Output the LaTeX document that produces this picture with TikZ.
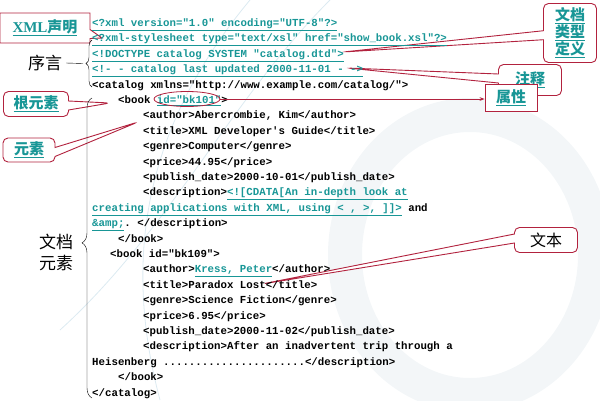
\documentclass[tikz,border=0pt]{standalone}
\usepackage{fontspec}
\setmainfont{Liberation Serif}
\setmonofont{Liberation Mono}
\newfontfamily\cjk{Noto Sans CJK SC}
\usetikzlibrary{shapes.geometric,shapes.callouts,decorations.pathreplacing,arrows.meta}

\definecolor{linkteal}{RGB}{24,150,150}
\definecolor{tagred}{RGB}{178,34,62}
\definecolor{swirlgray}{RGB}{243,246,248}
\definecolor{swirlblue}{RGB}{220,234,241}

\newcommand{\lnk}[1]{{\color{linkteal}\underline{#1}}}

\tikzset{
  code/.style={anchor=base west, inner sep=0pt, font=\ttfamily\bfseries\fontsize{10.75}{13}\selectfont},
  tag/.style={rectangle callout, draw=tagred, line width=0.9pt, fill=white, rounded corners=5pt,
    callout pointer width=9pt, text=linkteal, inner sep=0pt, font=\cjk\bfseries\fontsize{15}{17}\selectfont},
  side/.style={inner sep=0pt, align=center, font=\cjk\fontsize{17}{21}\selectfont},
}

\begin{document}
\begin{tikzpicture}[x=1pt,y=-1pt]
  \useasboundingbox (0,0) rectangle (600,400);
  % faint background swirl
  \draw[swirlgray, line width=34pt] (470,255) ellipse (125 and 140);
  \draw[swirlblue, line width=0.8pt] (250,0) .. controls (150,120) and (120,250) .. (160,400);
  \draw[swirlblue, line width=0.8pt] (330,0) .. controls (230,100) and (170,230) .. (60,330);

  % callouts
  \coordinate (tipDecl) at (102,38);
  \coordinate (tipRoot) at (110,103);
  \coordinate (tipElem) at (138,122);
  \coordinate (tipDtd) at (343,52);
  \coordinate (tipCmt) at (347,68);
  \coordinate (tipTxt) at (262,284);
  \node[tag, rounded corners=0pt, callout absolute pointer={(tipDecl)}, minimum width=90pt, minimum height=30pt] (decl) at (45,28) {\underline{{\rmfamily XML}声明}};
  \node[tag, callout absolute pointer={(tipRoot)}, minimum width=65pt, minimum height=25pt] (root) at (36,104) {\underline{根元素}};
  \node[tag, callout absolute pointer={(tipElem)}, minimum width=52pt, minimum height=24pt] (elem) at (29,150) {\underline{元素}};
  \node[tag, callout absolute pointer={(tipDtd)}, minimum width=53pt, minimum height=59pt, align=center] (dtd) at (570,33) {\underline{文档}\\\underline{类型}\\\underline{定义}};
  \node[tag, callout absolute pointer={(tipCmt)}, minimum width=63pt, minimum height=31pt] (cmt) at (530,80) {\underline{注释}};
  \node[draw=tagred, line width=0.9pt, fill=white, minimum width=52pt, minimum height=27pt, inner sep=0pt, text=linkteal, font=\cjk\bfseries\fontsize{15}{17}\selectfont] (attr) at (511,98) {\underline{属性}};
  \node[tag, text=black, font=\cjk\fontsize{16}{18}\selectfont, callout absolute pointer={(tipTxt)}, minimum width=63pt, minimum height=25pt] (txt) at (546,240) {文本};

  % code lines
  \node[code] (l1) at (92,26.5) {\lnk{<?xml version="1.0" encoding="UTF-8"?>}};
  \node[code] (l2) at (92,41.9) {\lnk{<?xml-stylesheet type="text/xsl" href="show\_book.xsl"?>}};
  \node[code] (l3) at (92,57.3) {\lnk{<!DOCTYPE catalog SYSTEM "catalog.dtd">}};
  \node[code] (l4) at (92,72.7) {\lnk{<!- - catalog last updated 2000-11-01 - ->}};
  \node[code] (l5) at (92,88.1) {<catalog xmlns="http://www.example.com/catalog/">};
  \node[code] (l6) at (118,103.5) {<book \lnk{id="bk101"}>};
  \node[code] (l7) at (143,118.9) {<author>Abercrombie, Kim</author>};
  \node[code] (l8) at (143,134.3) {<title>XML Developer's Guide</title>};
  \node[code] (l9) at (143,149.7) {<genre>Computer</genre>};
  \node[code] (l10) at (143,165.1) {<price>44.95</price>};
  \node[code] (l11) at (143,180.5) {<publish\_date>2000-10-01</publish\_date>};
  \node[code] (l12) at (143,195.9) {<description>\lnk{<![CDATA[An in-depth look at}};
  \node[code] (l13) at (92,211.3) {\lnk{creating applications with XML, using < , >, ]]>} and};
  \node[code] (l14) at (92,226.7) {\lnk{\&amp;}. </description>};
  \node[code] (l15) at (118,242.1) {</book>};
  \node[code] (l16) at (110,257.5) {<book id="bk109">};
  \node[code] (l17) at (143,272.9) {<author>\lnk{Kress, Peter}</author>};
  \node[code] (l18) at (143,288.3) {<title>Paradox Lost</title>};
  \node[code] (l19) at (143,303.7) {<genre>Science Fiction</genre>};
  \node[code] (l20) at (143,319.1) {<price>6.95</price>};
  \node[code] (l21) at (143,334.5) {<publish\_date>2000-11-02</publish\_date>};
  \node[code] (l22) at (143,349.9) {<description>After an inadvertent trip through a};
  \node[code] (l23) at (92,365.3) {Heisenberg ......................</description>};
  \node[code] (l24) at (118,380.7) {</book>};
  \node[code] (l25) at (92,396.1) {</catalog>};

  % attribute ring
  \node[ellipse, draw=tagred, line width=0.8pt, minimum width=66pt, minimum height=15pt, inner sep=0pt] (idring) at (187,99) {};
  \draw[tagred, line width=0.8pt, -{Stealth[length=5pt]}] (idring.east) -- (attr.west |- idring.east);

  % side labels with braces
  \node[side] (prolog) at (45,63) {序言};
  \node[side] (docel) at (56,252) {文档\\元素};
  \draw[decorate, decoration={brace, amplitude=6pt}] (92,87) -- (92,40);
  \coordinate (prologtip) at (83,63.5);
  \draw (prolog.east) ++(4,0) -- (prologtip);
  \draw[decorate, decoration={brace, amplitude=10pt, aspect=0.517}] (92,398) -- (92,98);
\end{tikzpicture}
\end{document}
